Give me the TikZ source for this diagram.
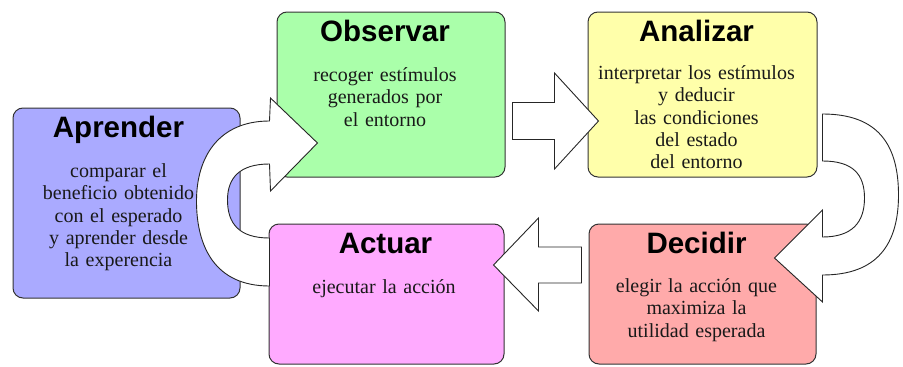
\documentclass[tikz,border=0pt]{standalone}
\usepackage{fontspec}
\setmainfont{Liberation Serif}
\newfontfamily\headfont{Liberation Sans}
\usetikzlibrary{positioning, calc}
\definecolor{aprcolor}{RGB}{170,170,255}
\definecolor{obscolor}{RGB}{170,255,170}
\definecolor{anacolor}{RGB}{255,255,170}
\definecolor{actcolor}{RGB}{255,170,255}
\definecolor{deccolor}{RGB}{255,170,170}

\begin{document}
\begin{tikzpicture}[x=1pt, y=-1pt,
    phase/.style={rectangle, draw=black!80, line width=1pt, rounded corners=10pt, minimum width=228pt, minimum height=165pt, inner sep=0pt},
    phasetitle/.style={anchor=base, font=\headfont\bfseries\fontsize{29.5}{34}\selectfont, inner sep=0pt},
    phasetext/.style={anchor=base, text width=226pt, align=center, font=\fontsize{20}{22.3}\selectfont, text=black!90, inner sep=0pt},
    blockarrow/.style={draw=black!85, fill=white, line width=0.9pt, line join=miter}]

    \useasboundingbox (0,0) rectangle (903,367);

    % Phases
    \node [phase, fill=aprcolor, minimum width=227pt, minimum height=190pt] (apr) at (126.5,203) {};
    \node [phase, fill=obscolor] (obs) at (391,94.5) {};
    \node [phase, fill=anacolor, minimum width=229pt, right=82pt of obs] (ana) {};
    \node [phase, fill=deccolor, minimum width=227pt, minimum height=140pt, below=46pt of ana] (dec) {};
    \node [phase, fill=actcolor, minimum width=235pt, minimum height=140pt, left=84pt of dec] (act) {};

    % Titles
    \node [phasetitle] (aprT) at ($(apr.north)+(-8,30)$) {Aprender};
    \node [phasetitle] (obsT) at ($(obs.north)+(-6,30)$) {Observar};
    \node [phasetitle] (anaT) at ($(ana.north)+(-6,30)$) {Analizar};
    \node [phasetitle] (decT) at ($(dec.north)+(-6,30)$) {Decidir};
    \node [phasetitle] (actT) at ($(act.north)+(-1,30)$) {Actuar};

    % Descriptions
    \node [phasetext] (aprB) at ($(apr.north)+(-8,70)$) {comparar el\\beneficio obtenido\\con el esperado\\y aprender desde\\la experencia};
    \node [phasetext] (obsB) at ($(obs.north)+(-6,70)$) {recoger estímulos\\generados por\\el entorno};
    \node [phasetext] (anaB) at ($(ana.north)+(-6,68)$) {interpretar los estímulos\\y deducir\\las condiciones\\del estado\\del entorno};
    \node [phasetext] (decB) at ($(dec.north)+(-6,69)$) {elegir la acción que\\maximiza la\\utilidad esperada};
    \node [phasetext] (actB) at ($(act.north)+(-2.5,70)$) {ejecutar la acción};

    % Arrows
    \coordinate (oa) at ($(obs.east)+(7,26.5)$);
    \draw [blockarrow] ($(oa)+(0,-18.5)$) -- ($(oa)+(42,-18.5)$) -- ($(oa)+(42,-48)$)
        -- ($(ana.west)+(11,26.5)$) -- ($(oa)+(42,48)$) -- ($(oa)+(42,18.5)$) -- ($(oa)+(0,18.5)$) -- cycle;

    \coordinate (da) at ($(dec.west)+(-7,-29)$);
    \draw [blockarrow] ($(da)+(0,-18)$) -- ($(da)+(-43,-18)$) -- ($(da)+(-43,-47)$)
        -- ($(act.east)+(-11,-29)$) -- ($(da)+(-43,46)$) -- ($(da)+(-43,18)$) -- ($(da)+(0,18)$) -- cycle;

    \coordinate (ad) at ($(ana.east)+(5,19.5)$);
    \draw [blockarrow] (ad) .. controls ($(ad)+(55,0)$) and ($(ad)+(76,30)$) .. ($(ad)+(76,81)$)
        .. controls ($(ad)+(76,130)$) and ($(ad)+(55,161)$) .. ($(ad)+(0,161)$)
        -- ($(ad)+(0,188)$) -- ($(dec.east)+(-42,-36)$) -- ($(ad)+(0,96)$) -- ($(ad)+(0,123)$)
        .. controls ($(ad)+(30,123)$) and ($(ad)+(42,108)$) .. ($(ad)+(42,84)$)
        .. controls ($(ad)+(42,60)$) and ($(ad)+(30,47)$) .. ($(ad)+(0,47)$) -- cycle;

    \coordinate (ao) at ($(act.west)+(1,-8)$);
    \draw [blockarrow] (ao) .. controls ($(ao)+(-55,0)$) and ($(ao)+(-73,-40)$) .. ($(ao)+(-73,-85)$)
        .. controls ($(ao)+(-73,-130)$) and ($(ao)+(-50,-165)$) .. ($(ao)+(0,-165)$)
        -- ($(ao)+(1,-188)$) -- ($(obs.west)+(41,48.5)$) -- ($(ao)+(1,-95)$) -- ($(ao)+(0,-122)$)
        .. controls ($(ao)+(-30,-122)$) and ($(ao)+(-42,-108)$) .. ($(ao)+(-42,-86)$)
        .. controls ($(ao)+(-42,-62)$) and ($(ao)+(-30,-48)$) .. ($(ao)+(0,-48)$) -- cycle;

\end{tikzpicture}
\end{document}
